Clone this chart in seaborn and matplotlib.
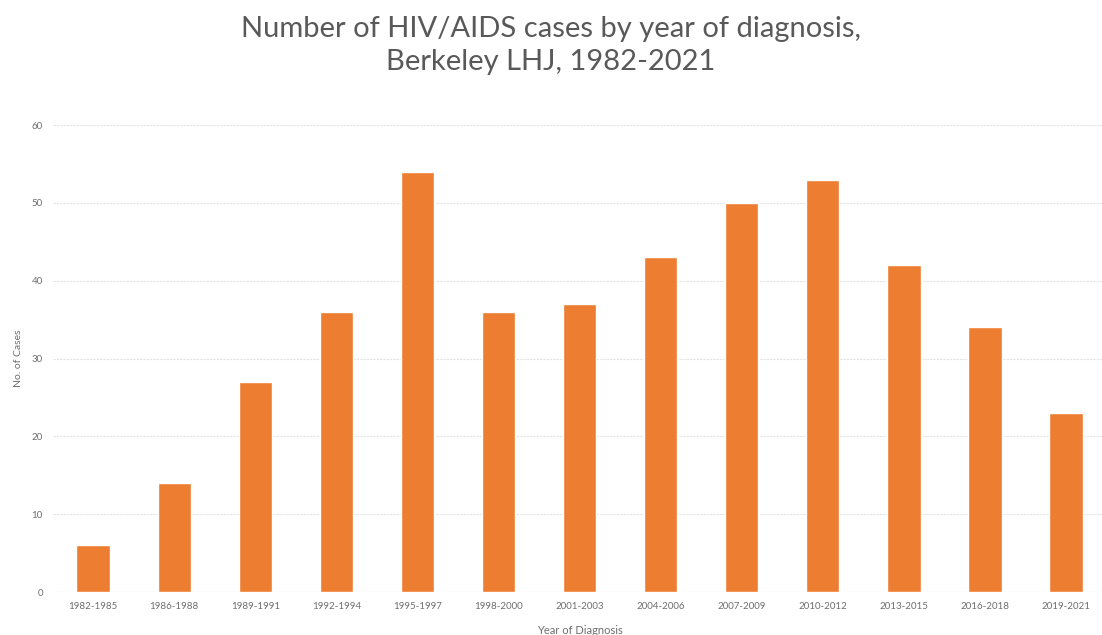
import matplotlib
matplotlib.use("Agg")
import matplotlib.pyplot as plt
import seaborn as sns
import pandas as pd

categories = ["1982-1985", "1986-1988", "1989-1991", "1992-1994", "1995-1997",
              "1998-2000", "2001-2003", "2004-2006", "2007-2009", "2010-2012",
              "2013-2015", "2016-2018", "2019-2021"]
cases = [6, 14, 27, 36, 54, 36, 37, 43, 50, 53, 42, 34, 23]
y_ticks = [0, 10, 20, 30, 40, 50, 60]

sns.set_theme(style="white")
plt.rcParams['font.family'] = ['Lato', 'DejaVu Sans']

df = pd.DataFrame({"period": categories, "cases": cases})

fig = plt.figure(figsize=(11.02, 6.35), dpi=100)
ax = fig.add_axes([0.0477, 0.0677, 0.9565, 0.7353])
sns.barplot(data=df, x="period", y="cases", color="#ED7D31", width=0.41,
            saturation=1, ax=ax, zorder=3)

ax.set_ylim(0, 60)
ax.set_yticks(y_ticks)
ax.set_xlim(-0.5, len(categories) - 0.5)
ax.grid(axis="y", color="#E3E3E3", linestyle=(0, (2, 1)), linewidth=0.8, zorder=0)
for s in ["top", "right", "left", "bottom"]:
    ax.spines[s].set_visible(False)
ax.axhline(0, color="#D9D9D9", linewidth=0.8, zorder=1)
ax.tick_params(axis="both", length=0, labelsize=7, labelcolor="#6E6E6E", pad=7)
ax.set_xlabel("Year of Diagnosis", fontsize=8, color="#6E6E6E", labelpad=10)
ax.set_ylabel("No. of Cases", fontsize=7.5, color="#6E6E6E", labelpad=6)

fig.suptitle("Number of HIV/AIDS cases by year of diagnosis,\nBerkeley LHJ, 1982-2021",
             x=0.5, y=0.975, fontsize=21, color="#595959", linespacing=1.35)

fig.savefig("out.png", dpi=100)
